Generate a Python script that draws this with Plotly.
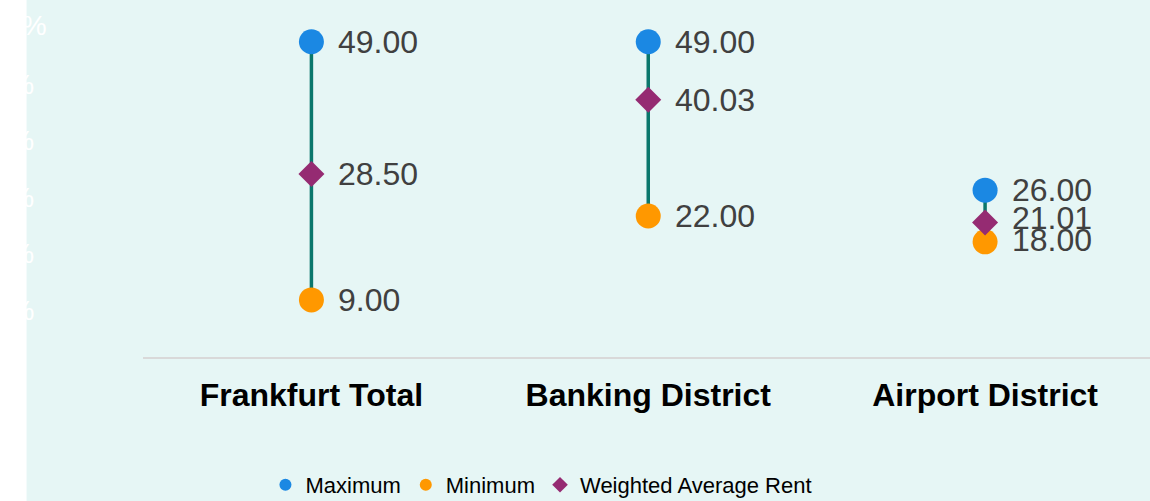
import plotly.graph_objects as go

# Office rent ranges by submarket (EUR / sqm / month)
districts = ["Frankfurt Total", "Banking District", "Airport District"]
maximum = [49.00, 49.00, 26.00]
minimum = [9.00, 22.00, 18.00]
weighted_avg = [28.50, 40.03, 21.01]

# secondary-axis percentage ticks (drawn in white at the left edge)
pct_ticks = ["100%", "80%", "60%", "40%", "20%", "0%"]

BLUE = "#1b88e3"
ORANGE = "#ff9800"
PURPLE = "#952b72"
TEAL = "#0a776c"
BG = "#e6f6f5"
LABEL = "#404040"
FONT = "Arial, Liberation Sans, sans-serif"

W, H = 1150, 501
PLOT_L, PLOT_B = 142.5, 357.8
PX_PER_UNIT = 6.45
CAT_PX = 337.0

fig = go.Figure()

# range bars: vertical line from minimum to maximum
lx, ly = [], []
for d, lo, hi in zip(districts, minimum, maximum):
    lx += [d, d, None]
    ly += [lo, hi, None]
fig.add_trace(go.Scatter(x=lx, y=ly, mode="lines",
                         line=dict(color=TEAL, width=3.5),
                         showlegend=False, hoverinfo="skip"))

fig.add_trace(go.Scatter(x=districts, y=maximum, mode="markers", name="Maximum",
                         marker=dict(color=BLUE, size=25, symbol="circle")))
fig.add_trace(go.Scatter(x=districts, y=minimum, mode="markers", name="Minimum",
                         marker=dict(color=ORANGE, size=25, symbol="circle")))
fig.add_trace(go.Scatter(x=districts, y=weighted_avg, mode="markers",
                         name="Weighted Average Rent",
                         marker=dict(color=PURPLE, size=20, symbol="diamond")))

# value labels to the right of each marker; small vertical nudges keep the
# crowded Airport District labels apart
nudge = {("Airport District", "avg"): 4, ("Airport District", "min"): 2}
for series_key, values in (("max", maximum), ("min", minimum), ("avg", weighted_avg)):
    for d, v in zip(districts, values):
        fig.add_annotation(x=d, y=v, text=f"{v:.2f}", showarrow=False,
                           xanchor="left", yanchor="middle", xshift=25,
                           yshift=nudge.get((d, series_key), 0),
                           font=dict(size=32, color=LABEL, family=FONT))

# white percentage labels at the far left
pct_y_px = [25, 84, 140, 197, 253, 310]
pct_x_px = [48, 35, 35, 35, 35, 35]
for t, ypx, xpx in zip(pct_ticks, pct_y_px, pct_x_px):
    fig.add_annotation(xref="paper", yref="paper",
                       x=(xpx - PLOT_L) / (W - PLOT_L),
                       y=(PLOT_B - ypx) / PLOT_B,
                       text=t, showarrow=False, xanchor="right", yanchor="middle",
                       font=dict(size=28, color="white", family=FONT))

# light background panel starting just right of the left edge
fig.add_shape(type="rect", xref="paper", yref="paper", layer="below",
              x0=(26 - PLOT_L) / (W - PLOT_L), x1=1.05,
              y0=-0.6, y1=1.05,
              fillcolor=BG, line=dict(width=0))

plot_w = W - PLOT_L
fig.update_layout(
    width=W, height=H,
    margin=dict(l=PLOT_L, r=0, t=0, b=H - PLOT_B, pad=0, autoexpand=False),
    paper_bgcolor="white", plot_bgcolor="rgba(0,0,0,0)",
    font=dict(family=FONT),
    xaxis=dict(type="category", range=[-0.5, -0.5 + plot_w / CAT_PX],
               showgrid=False, zeroline=False, showline=False, automargin=False,
               ticks="outside", ticklen=9, tickcolor="rgba(0,0,0,0)",
               tickfont=dict(size=32, color="black", family=FONT, weight="bold")),
    yaxis=dict(range=[0, PLOT_B / PX_PER_UNIT], showgrid=False, automargin=False,
               zeroline=True, zerolinecolor="#d9d9d9", zerolinewidth=2,
               showticklabels=False, showline=False),
    legend=dict(orientation="h", x=(265 - PLOT_L) / plot_w, xanchor="left",
                yref="container", y=1 - 485 / H, yanchor="middle",
                bgcolor="rgba(0,0,0,0)", itemsizing="constant",
                font=dict(size=22, color="black", family=FONT)),
    showlegend=True,
)

fig.write_html("out.html")
